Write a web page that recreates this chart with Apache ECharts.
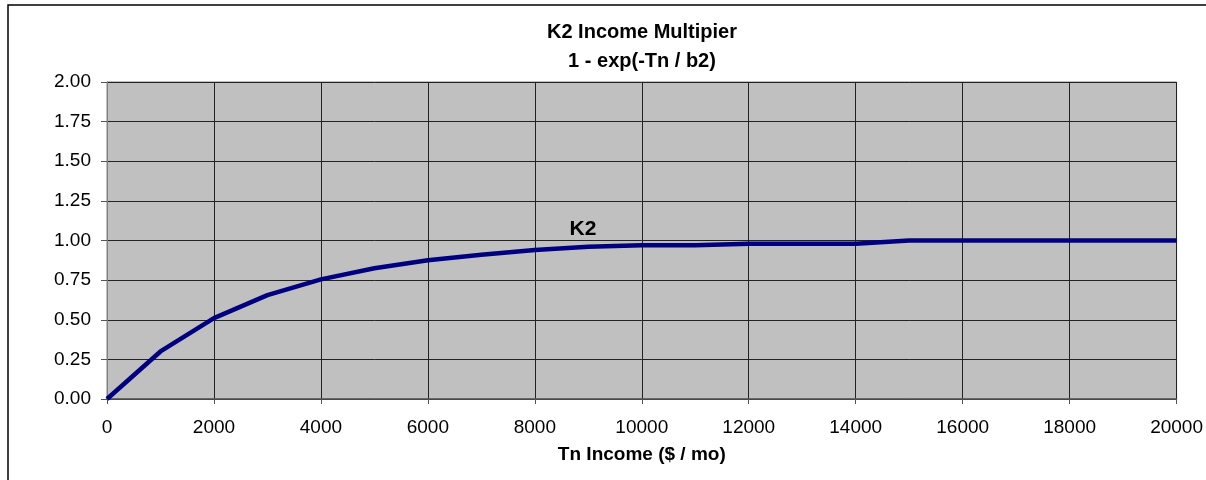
<!DOCTYPE html>
<html>
<head>
<meta charset="utf-8">
<script src="https://cdn.jsdelivr.net/npm/echarts@6/dist/echarts.min.js"></script>
<style>
html,body{margin:0;padding:0;background:#fff;}
#c{width:1206px;height:480px;}
</style>
</head>
<body>
<div id="c"></div>
<script>
const titleText = 'K2 Income Multipier';
const subtitleText = '1 - exp(-Tn / b2)';
const xAxisName = 'Tn Income ($ / mo)';
const seriesName = 'K2';
const incomeValues = [0,1000,2000,3000,4000,5000,6000,7000,8000,9000,10000,11000,12000,13000,14000,15000,16000,17000,18000,19000,20000];
const k2Values = [0,0.30,0.51,0.655,0.755,0.825,0.875,0.91,0.94,0.96,0.97,0.97,0.98,0.98,0.98,1.00,1.00,1.00,1.00,1.00,1.00];
const labelPoint = [8900, 1.07];

const chart = echarts.init(document.getElementById('c'), null, {renderer:'canvas'});
const font = 'Liberation Sans, Arial, sans-serif';
chart.setOption({
  animation:false,
  backgroundColor:'#fff',
  graphic:[{
    type:'rect', silent:true, z:-10,
    shape:{x:8, y:5, width:1300, height:600},
    style:{fill:'#fff', stroke:'#000', lineWidth:1.5}
  }],
  title:{
    text: titleText + '\n' + subtitleText,
    left: 642, top: 18, padding:0, textAlign:'center',
    textStyle:{fontFamily:font, fontSize:20, fontWeight:'bold', color:'#000', lineHeight:29}
  },
  grid:{left:107, right:29, top:82, bottom:81, show:true, backgroundColor:'#C0C0C0', borderColor:'#808080', borderWidth:1, containLabel:false},
  xAxis:{
    type:'value', min:0, max:20000, interval:2000,
    name: xAxisName, nameLocation:'middle', nameGap:46,
    nameTextStyle:{fontFamily:font, fontSize:19, fontWeight:'bold', color:'#000'},
    axisLine:{show:true, onZero:false, lineStyle:{color:'#555', width:1.5}},
    axisTick:{show:true, length:5, lineStyle:{color:'#555'}},
    axisLabel:{fontFamily:font, fontSize:19, color:'#000', margin:19, formatter:v=>String(v)},
    splitLine:{show:true, lineStyle:{color:'#222', width:1}}
  },
  yAxis:{
    type:'value', min:0, max:2, interval:0.25,
    axisLine:{show:true, lineStyle:{color:'#808080', width:1}},
    axisTick:{show:true, length:6, lineStyle:{color:'#555'}},
    axisLabel:{fontFamily:font, fontSize:19, color:'#000', margin:16, formatter:v=>v.toFixed(2)},
    splitLine:{show:true, lineStyle:{color:'#222', width:1}}
  },
  series:[{
    name: seriesName, type:'line', symbol:'none',
    data: incomeValues.map((x,i)=>[x,k2Values[i]]),
    lineStyle:{color:'#000080', width:4.5},
    markPoint:{
      symbol:'circle', symbolSize:0,
      data:[{coord:labelPoint, value:seriesName}],
      label:{show:true, position:'inside', formatter:seriesName, fontFamily:font, fontSize:21, fontWeight:'bold', color:'#000'}
    }
  }]
});
</script>
</body>
</html>
